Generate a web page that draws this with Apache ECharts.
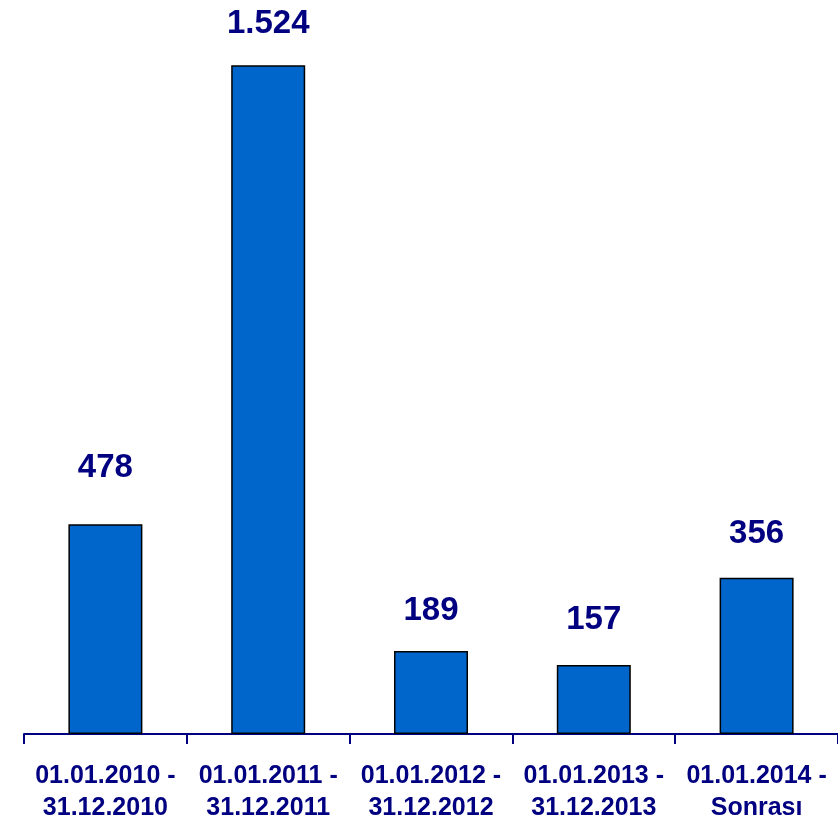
<!DOCTYPE html>
<html>
<head>
<meta charset="utf-8">
<script src="https://cdn.jsdelivr.net/npm/echarts@6/dist/echarts.min.js"></script>
<style>
  html, body { margin: 0; padding: 0; background: #ffffff; }
  #chart { width: 838px; height: 824px; }
</style>
</head>
<body>
<div id="chart"></div>
<script>
// Period ranges and counts per period
const periods = [
  '01.01.2010 -\n31.12.2010',
  '01.01.2011 -\n31.12.2011',
  '01.01.2012 -\n31.12.2012',
  '01.01.2013 -\n31.12.2013',
  '01.01.2014 -\nSonrası'
];
const counts = [478, 1524, 189, 157, 356];
const yMax = 1600;

// Gap (px) between each bar top and its value label
const labelGaps = [40, 25, 24, 29, 27];

// Turkish style thousands separator (1.524)
function formatCount(v) {
  return String(v).replace(/\B(?=(\d{3})+(?!\d))/g, '.');
}

const navy = '#000080';
const font = 'Liberation Sans, Arial, sans-serif';

const barData = counts.map((v, i) => ({
  value: v,
  label: { distance: labelGaps[i] }
}));

const chart = echarts.init(document.getElementById('chart'));
chart.setOption({
  backgroundColor: '#ffffff',
  animation: false,
  grid: { left: 24, right: -1, top: 32, bottom: 88 },
  xAxis: {
    type: 'category',
    data: periods,
    axisLine: { show: true, lineStyle: { color: navy, width: 2 } },
    axisTick: { show: true, alignWithLabel: false, length: 10, lineStyle: { color: navy, width: 2 } },
    axisLabel: {
      color: navy,
      fontFamily: font,
      fontWeight: 'bold',
      fontSize: 25,
      lineHeight: 32,
      margin: 26,
      interval: 0
    }
  },
  yAxis: {
    type: 'value',
    min: 0,
    max: yMax,
    show: false,
    splitLine: { show: false }
  },
  series: [{
    type: 'bar',
    data: barData,
    barWidth: 74,
    itemStyle: { color: '#0066CC', borderColor: '#000000', borderWidth: 1.5 },
    label: {
      show: true,
      position: 'top',
      color: navy,
      fontFamily: font,
      fontWeight: 'bold',
      fontSize: 33,
      formatter: p => formatCount(p.value)
    }
  }]
});
</script>
</body>
</html>
